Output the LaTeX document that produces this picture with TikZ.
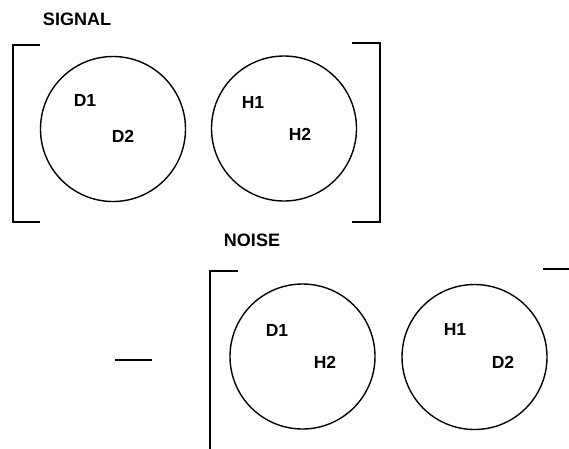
\documentclass[tikz,border=0pt]{standalone}
\usepackage{fontspec}
\setmainfont{Liberation Sans}
\begin{document}
\begin{tikzpicture}[x=1pt,y=-1pt,
  title/.style={font=\bfseries\fontsize{18}{20}\selectfont, inner sep=0pt},
  lbl/.style={font=\bfseries\fontsize{17.5}{19}\selectfont, inner sep=0pt},
  ring/.style={draw, line width=1.4pt, circle, inner sep=0pt, minimum size=145pt},
  brk/.style={line width=1.8pt}]
\useasboundingbox (0,0) rectangle (569,448);
% signal group
\node[title] (sig) at (77,19) {SIGNAL};
\node[ring] (c1) at (113,129) {};
\node[ring] (c2) at (284,128.5) {};
\node[lbl] (c1a) at (85,100) {D1};
\node[lbl] (c1b) at (123,136) {D2};
\node[lbl] (c2a) at (253,102) {H1};
\node[lbl] (c2b) at (300,134) {H2};
\draw[brk] (40,45) -- (13,45) -- (13,222) -- (40,222);
\draw[brk] (352,43) -- (380,43) -- (380,222) -- (352,222);
% noise group
\node[title] (noi) at (252,240) {NOISE};
\node[ring] (c3) at (302.5,356.5) {};
\node[ring] (c4) at (474.5,357) {};
\node[lbl] (c3a) at (277,330) {D1};
\node[lbl] (c3b) at (325,362) {H2};
\node[lbl] (c4a) at (455,329) {H1};
\node[lbl] (c4b) at (503,362) {D2};
\draw[brk] (238,271) -- (210,271) -- (210,450);
\draw[brk] (543,269) -- (571,269);
\draw[line width=2.4pt] (115,360) -- (152,360);
\end{tikzpicture}
\end{document}
